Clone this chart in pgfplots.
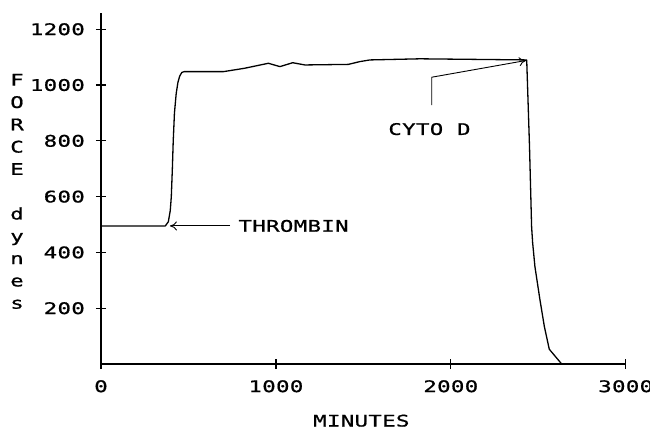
\documentclass[border=0pt]{standalone}
\usepackage{pgfplots}
\pgfplotsset{compat=1.18}
\usepackage{fontspec}
\usetikzlibrary{arrows.meta}
\newfontfamily\pf[FakeStretch=1.4,LetterSpace=2,FakeBold=0.9]{DejaVu Sans Mono}
\newcommand{\pfont}{\pf\fontsize{16}{22.3}\selectfont}
\begin{document}
\begin{tikzpicture}[x=1pt,y=1pt]
\begin{axis}[
  at={(0pt,0pt)}, anchor=south west,
  scale only axis, width=524.7pt, height=351.5pt,
  xmin=0, xmax=3000, ymin=0, ymax=1260,
  axis lines=left,
  axis line style={-, line width=1.4pt},
  clip=false,
  xtick={0,1000,2000,3000}, xticklabels={0,1000,2000,3000},
  ytick={200,400,600,800,1000,1200}, yticklabels={200,400,600,800,1000,1200},
  tick align=center, major tick length=10pt,
  tick style={line width=1.2pt, black},
  yticklabel style={font=\pfont, anchor=east, inner sep=0pt, xshift=-11pt},
  xticklabel style={font=\pfont, anchor=north, inner sep=0pt, yshift=-11pt},
  xlabel={MINUTES},
  ylabel={F\\O\\R\\C\\E\\[22.3pt]d\\y\\n\\e\\s},
  every axis x label/.style={at={(axis description cs:0.5,0)}, anchor=base, yshift=-62.5pt, xshift=-2pt, inner sep=0pt, font=\pfont},
  every axis y label/.style={at={(axis description cs:0,1)}, anchor=north, xshift=-84pt, yshift=-61.3pt, align=center, inner sep=0pt, font=\pfont},
]
\addplot[black, line width=1.3pt, line join=round] coordinates {
(0,495) (368,495) (385,510) (396,550) (402,600) (408,700) (413,800) (420,900)
(430,970) (440,1010) (450,1032) (462,1045) (475,1048) (700,1048) (820,1060)
(957,1078) (1023,1066) (1096,1080) (1166,1072) (1414,1074) (1480,1084)
(1538,1090) (1824,1094) (2434,1090) (2450,780) (2462,492) (2468,434)
(2481,349) (2510,229) (2535,134) (2563,53) (2634,0) (3000,0)};
\draw[-{To[length=7pt,width=9pt]}, line width=0.9pt] (axis cs:738,495) -- (axis cs:394,495);
\node[anchor=west, inner sep=0pt, font=\pfont] at (axis cs:785,495) {THROMBIN};
\draw[-{To[length=7pt,width=9pt]}, line width=0.9pt] (axis cs:1891,928) -- (axis cs:1891,1028) -- (axis cs:2430,1088);
\node[anchor=west, inner sep=0pt, font=\pfont] at (axis cs:1642,842) {CYTO D};
\end{axis}
\pgfresetboundingbox
\useasboundingbox (-101pt,-65pt) rectangle (549pt,364pt);
\end{tikzpicture}
\end{document}
